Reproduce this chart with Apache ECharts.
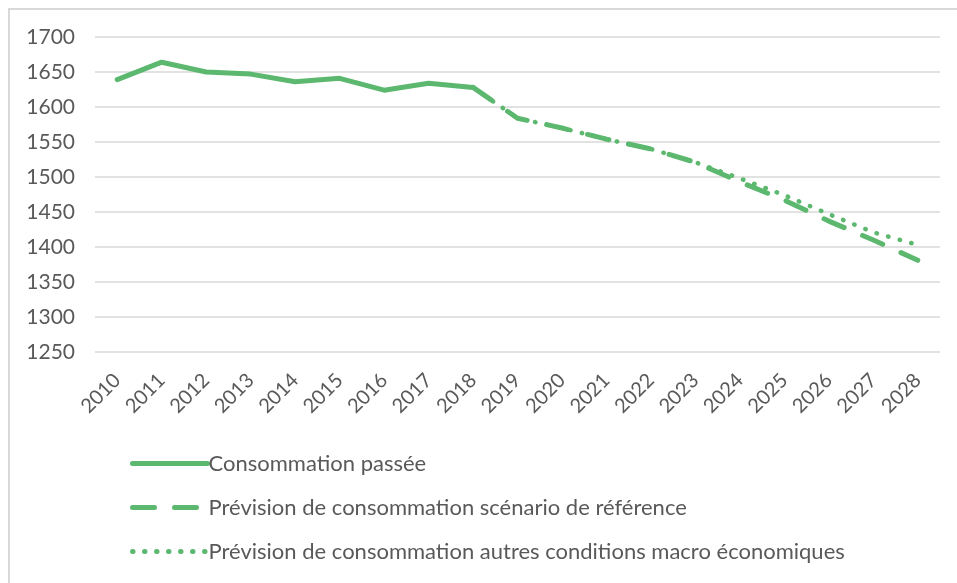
<!DOCTYPE html>
<html>
<head>
<meta charset="utf-8">
<script src="https://cdn.jsdelivr.net/npm/echarts@6/dist/echarts.min.js"></script>
<style>
  html, body { margin: 0; padding: 0; background: #fff; }
  #chart { width: 957px; height: 583px; }
  .frame { position: absolute; left: 8px; top: 8px; width: 980px; height: 600px;
           border: 2px solid #d9d9d9; pointer-events: none; }
</style>
</head>
<body>
<div id="chart"></div>
<div class="frame"></div>
<script>
  // années
  var years = ['2010','2011','2012','2013','2014','2015','2016','2017','2018','2019',
               '2020','2021','2022','2023','2024','2025','2026','2027','2028'];
  // consommation passée
  var passee = [1639, 1664, 1650, 1647, 1636, 1641, 1624, 1634, 1628,
                null, null, null, null, null, null, null, null, null, null];
  // scénario de référence (part du point 2018)
  var reference = [null, null, null, null, null, null, null, null, 1628,
                   1584, 1570, 1554, 1540, 1521, 1493, 1467, 1437, 1410, 1381];
  // autres conditions macro économiques
  var autres = [null, null, null, null, null, null, null, null, 1628,
                1584, 1570, 1554, 1540, 1521, 1498, 1474, 1447, 1421, 1403];
  var names = ['Consommation passée',
               'Prévision de consommation scénario de référence',
               'Prévision de consommation autres conditions macro économiques'];

  var vert = '#5cb86e';
  var gris = '#595959';
  var police = 'Lato';

  var option = {
    animation: false,
    textStyle: { fontFamily: police },
    grid: { left: 95, right: 17, top: 37, bottom: 231 },
    legend: {
      orient: 'vertical',
      left: 125,
      top: 447,
      itemWidth: 75,
      itemHeight: 14,
      itemGap: 21,
      itemStyle: { opacity: 0 },
      lineStyle: { width: 5 },
      textStyle: { color: gris, fontSize: 22, lineHeight: 23, fontFamily: police, padding: [0, 0, 0, -4] },
      data: names
    },
    xAxis: {
      type: 'category',
      data: years,
      boundaryGap: true,
      axisLine: { show: false },
      axisTick: { show: false },
      axisLabel: { rotate: 45, color: gris, fontSize: 20, margin: 25, interval: 0 }
    },
    yAxis: {
      type: 'value',
      min: 1250,
      max: 1700,
      interval: 50,
      axisLine: { show: false },
      axisTick: { show: false },
      axisLabel: { color: gris, fontSize: 21, margin: 20, formatter: function (v) { return String(v); } },
      splitLine: { lineStyle: { color: '#d9d9d9', width: 1.5 } }
    },
    series: [
      {
        name: names[0], type: 'line', data: passee, symbol: 'none',
        lineStyle: { color: vert, width: 5, cap: 'round', join: 'round' },
        itemStyle: { color: vert }
      },
      {
        name: names[1], type: 'line', data: reference, symbol: 'none',
        lineStyle: { color: vert, width: 5, type: [22, 20], cap: 'round' },
        itemStyle: { color: vert }
      },
      {
        name: names[2], type: 'line', data: autres, symbol: 'none',
        lineStyle: { color: vert, width: 4.5, type: [0.5, 11.5], cap: 'round' },
        itemStyle: { color: vert }
      }
    ]
  };

  var chartObj = echarts.init(document.getElementById('chart'));
  chartObj.setOption(option, true);
</script>
</body>
</html>
